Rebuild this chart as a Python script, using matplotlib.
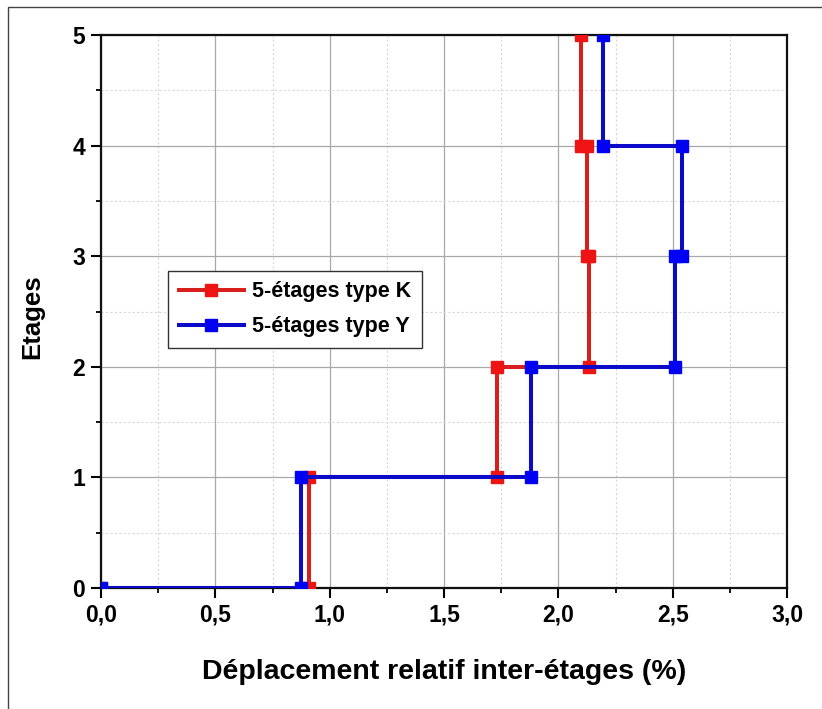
import matplotlib
matplotlib.use("Agg")
import matplotlib.pyplot as plt
from matplotlib.ticker import MultipleLocator, FuncFormatter
from matplotlib.patches import Rectangle

plt.rcParams['font.family'] = ['Liberation Sans', 'DejaVu Sans']
plt.rcParams['font.weight'] = 'bold'

# Storey levels and inter-storey drift (%) per storey
storeys = [0, 1, 2, 3, 4, 5]
drift_K = [0.91, 1.73, 2.135, 2.125, 2.10]
drift_Y = [0.875, 1.88, 2.51, 2.54, 2.195]
labels = ['5-étages type K', '5-étages type Y']

def step_profile(drifts):
    xs, ys = [0.0], [storeys[0]]
    for i, d in enumerate(drifts):
        xs += [d, d]
        ys += [storeys[i], storeys[i + 1]]
    return xs, ys

xK, yK = step_profile(drift_K)
xY, yY = step_profile(drift_Y)

fig = plt.figure(figsize=(8.22, 7.09), dpi=100)
ax = fig.add_axes([101 / 822, 1 - 588 / 709, 686 / 822, 553 / 709])

red_line, red_mk = '#D91E1E', '#EE1414'
blue_line, blue_mk = '#0A0AC8', '#0000F5'

ax.plot(xK, yK, color=red_line, lw=2.9, marker='s', ms=8.5,
        mfc=red_mk, mec=red_mk, label=labels[0], zorder=3)
ax.plot(xY, yY, color=blue_line, lw=2.9, marker='s', ms=8.5,
        mfc=blue_mk, mec=blue_mk, label=labels[1], zorder=4)

ax.set_xlim(0, 3.0)
ax.set_ylim(0, 5)
ax.xaxis.set_major_locator(MultipleLocator(0.5))
ax.xaxis.set_minor_locator(MultipleLocator(0.25))
ax.yaxis.set_major_locator(MultipleLocator(1))
ax.yaxis.set_minor_locator(MultipleLocator(0.5))
ax.xaxis.set_major_formatter(FuncFormatter(lambda v, p: f"{v:.1f}".replace('.', ',')))
ax.yaxis.set_major_formatter(FuncFormatter(lambda v, p: f"{int(round(v))}"))

ax.grid(which='major', color='#a8a8a8', lw=0.9, ls='-', zorder=0)
ax.grid(which='minor', color='#d8d8d8', lw=0.8, ls=(0, (2, 2)), zorder=0)
ax.set_axisbelow(True)

ax.tick_params(which='major', direction='out', length=7.5, width=1.5,
               labelsize=16.5, pad=4, top=False, right=False)
ax.tick_params(which='minor', direction='out', length=3.8, width=1.3,
               top=False, right=False)
for lab in ax.get_xticklabels() + ax.get_yticklabels():
    lab.set_fontweight('bold')

for s in ax.spines.values():
    s.set_linewidth(1.6)
    s.set_color('#111111')

ax.set_xlabel('Déplacement relatif inter-étages (%)', fontsize=20.5, fontweight='bold')
ax.set_ylabel('Etages', fontsize=18.5, fontweight='bold')
ax.xaxis.set_label_coords(0.5, -0.128)
ax.yaxis.set_label_coords(-0.083, 0.49)

leg = ax.legend(loc='upper left', bbox_to_anchor=(0.098, 0.574), borderaxespad=0,
                fontsize=15.5, handlelength=3.0, handletextpad=0.4,
                labelspacing=0.65, borderpad=0.5, fancybox=False,
                framealpha=1, edgecolor='#333333')
leg.get_frame().set_linewidth(1.0)
for t in leg.get_texts():
    t.set_fontweight('bold')

# outer frame of the figure
fig.add_artist(Rectangle((8 / 822, -0.02), 1.05, 1 - 7 / 709 + 0.02,
                         transform=fig.transFigure, fill=False,
                         edgecolor='#444444', lw=1.0))

fig.savefig('out.png', dpi=100)
